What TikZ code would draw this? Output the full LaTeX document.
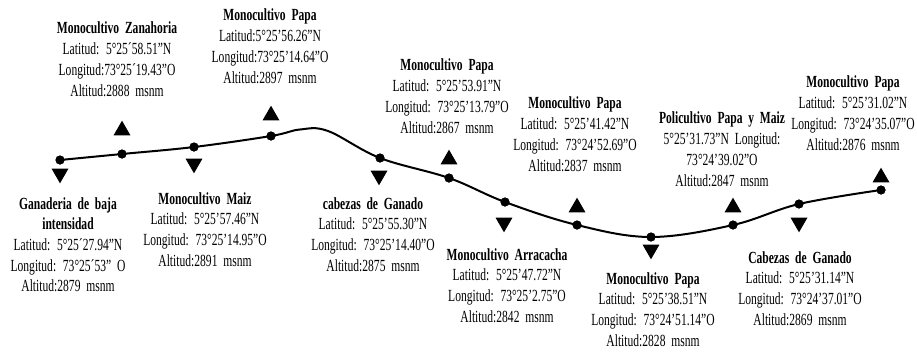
\documentclass[tikz,border=0pt]{standalone}
\usepackage{fontspec}
\setmainfont{Liberation Serif}[FakeStretch=0.68, WordSpace=2]
\usetikzlibrary{shapes.geometric}
\tikzset{
  info/.style={align=center, inner sep=0pt, anchor=north, font=\fontsize{17}{20.7}\selectfont},
  dot/.style={circle, fill=black, inner sep=0pt, minimum size=9pt},
  triup/.style={regular polygon, regular polygon sides=3, fill=black, inner sep=0pt, minimum size=19.6pt},
  tridown/.style={triup, shape border rotate=180},
  route/.style={line width=2pt}
}
\begin{document}
\begin{tikzpicture}[x=1pt, y=-1pt]
\useasboundingbox (0,0) rectangle (917,351);
% curve points
\coordinate (pk1) at (300,129.5);
\coordinate (pk2) at (328,131);
\node[dot] (d1) at (60,160) {};
\node[dot] (d2) at (122,154) {};
\node[dot] (d3) at (194,147) {};
\node[dot] (d4) at (271,136) {};
\node[dot] (d5) at (380,158) {};
\node[dot] (d6) at (449,178) {};
\node[dot] (d7) at (505,202) {};
\node[dot] (d8) at (577,225) {};
\node[dot] (d9) at (651,237) {};
\node[dot] (d10) at (733,225) {};
\node[dot] (d11) at (799,204) {};
\node[dot] (d12) at (881,190) {};
\draw[route] plot[smooth, tension=0.6] coordinates {(d1.center) (d2.center) (d3.center) (d4.center) (pk1) (pk2) (d5.center) (d6.center) (d7.center) (d8.center) (d9.center) (d10.center) (d11.center) (d12.center)};
\foreach \n in {1,...,12} {\fill (d\n.center) circle[radius=4.5pt];}
% triangles
\node[tridown] (t1) at (60,173.5) {};
\node[triup] (t2) at (122,130.5) {};
\node[tridown] (t3) at (194,163.5) {};
\node[triup] (t4) at (271,115.5) {};
\node[tridown] (t5) at (379,175.5) {};
\node[triup] (t6) at (449,159.5) {};
\node[tridown] (t7) at (504,222.5) {};
\node[triup] (t8) at (577,207.5) {};
\node[tridown] (t9) at (651,249.5) {};
\node[triup] (t10) at (733,207.5) {};
\node[tridown] (t11) at (799,222.5) {};
\node[triup] (t12) at (881,177.5) {};
% labels
\node[info] (la) at (117,22) {\textbf{Monocultivo Zanahoria}\\Latitud: 5°25´58.51"N\\Longitud:73°25´19.43"O\\Altitud:2888 msnm};
\node[info] (lb) at (270,9) {\textbf{Monocultivo Papa}\\Latitud:5°25'56.26"N\\Longitud:73°25'14.64"O\\Altitud:2897 msnm};
\node[info] (lc) at (447,59) {\textbf{Monocultivo Papa}\\Latitud: 5°25'53.91"N\\Longitud: 73°25'13.79"O\\Altitud:2867 msnm};
\node[info] (ld) at (575,97) {\textbf{Monocultivo Papa}\\Latitud: 5°25'41.42"N\\Longitud: 73°24'52.69"O\\Altitud:2837 msnm};
\node[info] (le) at (722,112) {\textbf{Policultivo Papa y Maiz}\\5°25'31.73"N Longitud:\\73°24'39.02"O\\Altitud:2847 msnm};
\node[info] (lf) at (853,76) {\textbf{Monocultivo Papa}\\Latitud: 5°25'31.02"N\\Longitud: 73°24'35.07"O\\Altitud:2876 msnm};
\node[info] (lg) at (68,197) {\textbf{Ganaderia de baja}\\\textbf{intensidad}\\Latitud: 5°25´27.94"N\\Longitud: 73°25´53" O\\Altitud:2879 msnm};
\node[info] (lh) at (205,192) {\textbf{Monocultivo Maiz}\\Latitud: 5°25'57.46"N\\Longitud: 73°25'14.95"O\\Altitud:2891 msnm};
\node[info] (li) at (373,197) {\textbf{cabezas de Ganado}\\Latitud: 5°25'55.30"N\\Longitud: 73°25'14.40"O\\Altitud:2875 msnm};
\node[info] (lj) at (507,248) {\textbf{Monocultivo Arracacha}\\Latitud: 5°25'47.72"N\\Longitud: 73°25'2.75"O\\Altitud:2842 msnm};
\node[info] (lk) at (653,272) {\textbf{Monocultivo Papa}\\Latitud: 5°25'38.51"N\\Longitud: 73°24'51.14"O\\Altitud:2828 msnm};
\node[info] (ll) at (800,251) {\textbf{Cabezas de Ganado}\\Latitud: 5°25'31.14"N\\Longitud: 73°24'37.01"O\\Altitud:2869 msnm};
\end{tikzpicture}
\end{document}
